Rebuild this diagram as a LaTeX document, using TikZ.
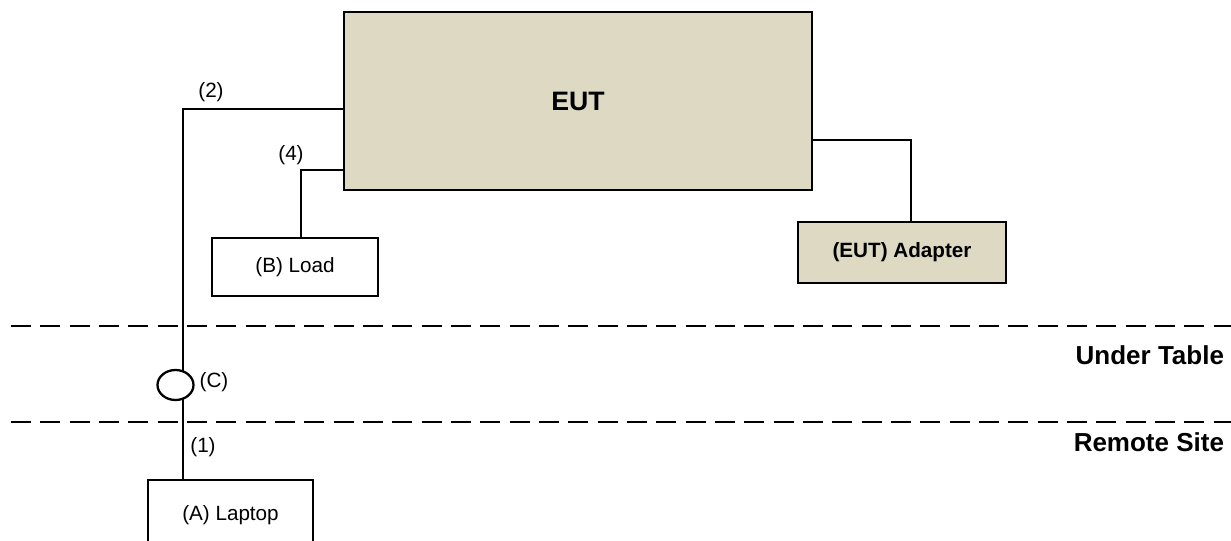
\documentclass[tikz,border=0pt]{standalone}
\usepackage{fontspec}
\setmainfont{Liberation Sans}
\usetikzlibrary{shapes.geometric}

\tikzset{every picture/.style={line width=1.5pt}}
\tikzset{
  unit/.style={draw, line width=2.1pt, inner sep=0pt, font=\fontsize{15.5}{18}\selectfont},
  eutfill/.style={fill={rgb, 255:red, 221; green, 217; blue, 195 }},
  lbl/.style={inner sep=0.75pt, font=\fontsize{15.5}{18}\selectfont},
  zone/.style={anchor=east, inner sep=0.75pt, font=\fontsize{19.5}{22}\selectfont\bfseries},
  tableline/.style={line width=2pt, dash pattern={on 15pt off 7pt}}
}

\begin{document}
\begin{tikzpicture}[x=0.75pt,y=0.75pt,yscale=-1,xscale=1]
\useasboundingbox (0,0) rectangle (1231,541);

% units
\node [unit, eutfill, minimum width=351pt, minimum height=133.5pt, font=\fontsize{20}{24}\selectfont\bfseries] (EUT) at (578,101) {EUT};
\node [unit, minimum width=124.5pt, minimum height=43.5pt] (Load) at (295,267) {(B) Load};
\node [unit, eutfill, minimum width=156pt, minimum height=45.75pt, font=\fontsize{15.5}{18}\selectfont\bfseries] (Adapter) at (902,252.5) {(EUT) Adapter};
\node [unit, minimum width=123.75pt, minimum height=52.5pt] (Laptop) at (230.5,515) {(A) Laptop};

% cables
\coordinate (c2) at (183,109);
\coordinate (c4) at (301,170);
\coordinate (c3) at (911,140);
\draw (c2 -| EUT.west) -- (c2) -- (c2 |- Laptop.north) ;
\draw (c4 -| EUT.west) -- (c4) -- (c4 |- Load.north) ;
\draw [line width=1.2pt] (c3 -| EUT.east) -- (c3) -- (c3 |- Adapter.north) ;

% ferrite core
\node [ellipse, draw, line width=1.7pt, fill=white, inner sep=0pt, minimum width=27pt, minimum height=22.5pt] (C) at (175.5,385) {};

% table levels
\draw [tableline] (11,326) -- (1231,326) ;
\draw [tableline] (11,422) -- (1231,422) ;

\draw (211,92) node [lbl] {(2)};
\draw (291,155) node [lbl] {(4)};
\draw (214,382) node [lbl] {(C)};
\draw (203,447) node [lbl] {(1)};
\draw (1226,355) node [zone] {Under Table};
\draw (1226,442) node [zone] {Remote Site};

\end{tikzpicture}
\end{document}
